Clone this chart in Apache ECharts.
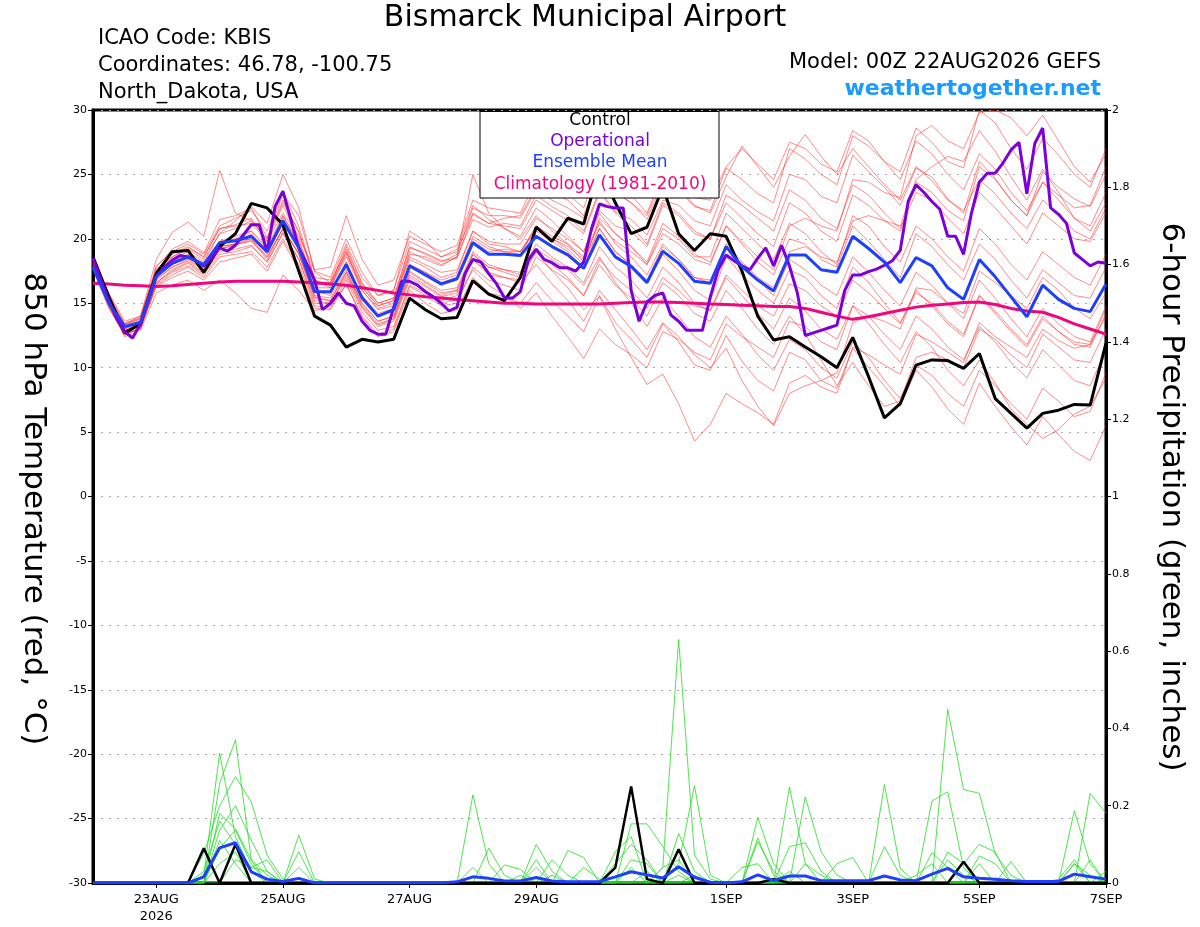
<!DOCTYPE html>
<html>
<head>
<meta charset="utf-8">
<script src="https://cdn.jsdelivr.net/npm/echarts@6/dist/echarts.min.js"></script>
<style>
  html, body { margin: 0; background: #fff; }
  #chart { width: 1200px; height: 927px; }
</style>
</head>
<body>
<div id="chart"></div>
<script>
// x axis: hours after 00Z 22AUG2026
const labelHours = [24, 72, 120, 168, 240, 288, 336, 384];
const xLabels = ['23AUG\n2026', '25AUG', '27AUG', '29AUG', '1SEP', '3SEP', '5SEP', '7SEP'];
const tempTicks = [-30, -25, -20, -15, -10, -5, 0, 5, 10, 15, 20, 25, 30];

// 850 hPa temperature, 6-hourly
const tempControl = [18.6,15.5,12.7,13.4,17.3,19.0,19.1,17.4,19.4,20.4,22.75,22.4,21.1,17.5,14.0,13.3,11.6,12.2,12.0,12.2,
  15.4,14.5,13.8,13.9,16.75,15.7,15.2,17.0,20.9,19.8,21.6,21.15,25.5,22.8,20.4,20.9,24.0,20.4,19.1,20.4,
  20.2,17.5,14.0,12.15,12.4,11.6,10.85,10.0,12.35,9.3,6.1,7.2,10.2,10.6,10.55,9.95,11.1,7.6,6.45,5.3,
  6.45,6.7,7.15,7.1,11.9];
const tempMean = [17.8,15.0,13.2,13.5,17.1,18.1,18.6,18.0,19.7,19.85,20.2,19.0,21.4,19.3,15.9,15.9,18.0,15.4,14.0,14.5,
  17.9,17.2,16.5,16.9,19.7,18.8,18.8,18.7,20.2,19.4,18.75,17.7,20.3,18.6,17.85,16.6,19.05,18.1,16.7,16.55,
  19.4,17.85,16.8,15.95,18.75,18.75,17.6,17.4,20.2,19.25,18.2,16.6,18.55,17.9,16.2,15.3,18.4,17.05,15.5,13.95,
  16.4,15.3,14.6,14.35,16.5];
const tempClimo = [16.55,16.5,16.4,16.35,16.3,16.35,16.45,16.55,16.65,16.7,16.7,16.7,16.7,16.65,16.6,16.5,16.4,16.2,16.0,15.8,
  15.65,15.5,15.4,15.3,15.2,15.1,15.0,15.0,14.95,14.95,14.95,14.95,14.95,15.0,15.05,15.1,15.1,15.05,15.0,14.95,
  14.9,14.85,14.8,14.75,14.75,14.6,14.3,14.0,13.75,13.95,14.2,14.45,14.7,14.85,14.95,15.05,15.1,14.9,14.6,14.4,
  14.3,13.9,13.4,13.0,12.6];
// operational run, 3-hourly
const tempOper = [18.5,16.8,15.2,13.8,12.8,12.3,13.4,15.25,17.1,17.8,
  18.35,18.7,18.6,18.3,17.9,18.5,19.3,19.05,19.5,20.3,
  21.1,21.1,19.0,22.5,23.7,21.5,19.3,18.1,16.8,14.5,
  15.0,15.8,15.0,14.8,13.6,12.9,12.6,12.6,14.7,16.7,
  16.7,16.4,15.9,15.5,15.0,14.4,14.7,17.3,18.4,18.2,
  17.3,16.5,15.4,15.4,15.9,18.35,19.2,18.4,18.15,17.75,
  17.75,17.5,18.2,20.8,22.7,22.5,22.4,22.4,16.0,13.6,
  15.1,15.6,15.8,14.1,13.6,12.9,12.9,12.9,15.5,17.6,
  18.75,18.3,17.9,17.6,18.5,19.3,17.9,19.5,17.9,15.8,
  12.5,12.7,12.9,13.1,13.3,16.0,17.2,17.2,17.45,17.65,
  17.95,18.3,19.1,22.9,24.2,23.6,22.9,22.3,20.2,20.2,
  18.8,22.0,24.4,25.1,25.1,25.9,26.9,27.5,23.5,27.4,
  28.6,22.4,21.9,21.2,18.9,18.4,17.9,18.2,18.1];

// ensemble members (red)
const tempMembers = [
  [18.2,15.3,13.4,13.8,17.8,19.2,19.8,18.9, 21.5,21.8,22.4,20.1,23.0,20.5,16.8,16.2, 19.0,16.3,14.8,15.2,19.0,18.4,17.9,18.6,
   21.5,20.9,21.2,21.0,23.4,22.5,21.8,20.6, 23.8,22.1,21.5,20.3,23.0,22.6,21.4,21.0, 24.2,23.0,22.1,21.4,25.0,24.6,23.3,22.8,
   26.5,25.2,24.0,22.6,25.5,24.8,23.1,22.0, 26.0,24.7,23.0,21.8,25.2,24.0,23.1,22.5, 25.0],
  [17.6,14.6,12.6,13.0,16.3,17.0,17.5,16.8, 18.2,18.5,18.8,17.5,19.8,17.6,14.6,14.5, 16.5,13.9,12.4,12.8,16.0,15.0,14.2,14.5,
   17.0,15.8,15.5,15.0,16.6,15.2,14.0,12.8, 15.6,13.5,12.2,10.8,13.4,12.0,10.2,9.8, 12.5,10.5,9.0,8.2,11.2,10.6,9.0,8.4,
   11.5,10.0,8.6,7.0,9.8,8.5,6.8,5.6, 8.8,7.0,5.4,4.0,6.2,4.8,3.5,2.8, 5.5],
  [18.0,15.1,12.9,13.2,16.8,17.8,18.3,17.6, 19.2,19.5,19.9,18.4,20.8,18.9,15.5,15.2, 17.4,15.0,13.6,14.0,17.5,16.7,16.0,16.2,
   19.0,18.0,17.6,17.2,19.0,17.5,16.2,14.5, 15.5,13.0,10.8,8.7,9.5,7.2,4.3,5.6, 8.0,7.2,6.5,5.6,8.8,9.4,8.5,8.0,
   11.6,11.0,10.2,9.5,12.6,12.0,11.2,10.4, 13.5,12.4,11.6,10.8,13.0,12.1,11.5,11.8, 14.0],
  [18.4,15.6,13.1,13.6,17.5,18.6,19.3,18.6, 20.8,21.1,21.6,19.8,22.6,20.0,16.4,16.6, 19.2,16.5,15.0,15.4,19.3,18.9,18.3,18.5,
   21.9,21.2,21.6,21.8,24.0,23.5,23.0,21.8, 25.0,23.6,22.8,21.5,24.4,23.8,22.5,22.2, 25.5,24.6,23.5,22.8,27.0,26.2,25.0,24.2,
   28.0,27.2,26.0,25.2,28.6,27.5,26.0,25.5, 30.0,29.0,27.0,25.4,27.8,26.5,25.0,24.0, 27.0],
  [17.8,14.9,12.8,13.3,16.6,17.5,18.1,17.3, 19.0,19.2,19.5,18.2,20.5,18.4,15.2,15.0, 17.2,14.7,13.3,13.8,17.0,16.3,15.5,15.8,
   18.4,17.2,17.0,16.6,18.0,16.5,15.2,13.6, 16.0,14.5,13.0,11.4,13.5,12.4,11.0,10.0, 11.5,9.0,7.0,5.5,8.0,8.6,9.0,9.6,
   13.5,14.0,13.6,13.0,16.2,16.0,15.0,14.2, 17.5,16.6,15.6,14.6,17.0,16.0,14.6,13.8, 15.8],
  [18.5,15.8,13.6,14.0,18.4,20.5,21.3,20.2, 25.3,22.0,21.4,20.0,23.5,21.8,17.5,17.0, 20.0,17.4,15.6,16.0,20.6,19.8,18.6,19.2,
   22.6,21.5,20.8,20.0,21.8,20.6,19.6,18.2, 20.8,19.0,18.0,16.6,18.8,17.5,16.0,15.2, 18.6,17.2,16.0,15.0,17.6,17.0,15.6,14.6,
   17.8,16.6,15.0,13.5,16.0,14.8,13.4,12.4, 15.6,14.2,12.8,11.6,13.8,12.8,11.8,11.6, 14.2],
  [18.1,15.2,13.0,13.5,17.2,18.4,19.0,18.2, 20.4,21.4,22.5,21.2,25.0,22.4,17.4,16.6, 19.0,16.0,14.5,14.8,18.4,17.8,17.0,17.4,
   20.6,19.6,19.4,19.0,21.0,20.0,19.2,18.0, 21.6,20.4,19.4,18.0,20.8,20.0,18.6,18.6, 22.0,20.8,19.6,18.4,21.2,20.4,19.0,18.0,
   21.8,21.0,19.4,18.2,21.0,20.0,18.6,17.5, 20.8,19.6,18.0,16.8,19.0,18.0,17.0,16.4, 18.8],
  [17.9,14.8,12.4,12.9,15.8,16.4,16.8,16.0, 16.8,15.8,14.6,14.3,17.2,16.0,14.4,14.8, 16.4,14.0,12.6,13.0,16.3,15.6,14.8,15.0,
   17.8,16.8,16.4,16.0,18.6,17.6,16.8,15.6, 18.4,17.0,16.0,14.6,17.0,16.0,14.8,14.5, 17.2,16.0,14.8,14.0,16.5,16.0,14.8,14.0,
   16.8,15.8,14.6,13.4,15.8,15.0,13.6,12.6, 15.6,14.4,13.0,11.8,14.0,12.8,12.0,11.8, 14.6],
  [18.3,15.5,13.2,13.7,17.6,18.8,19.4,18.6, 20.8,21.0,21.2,19.8,22.0,20.2,17.6,17.8, 21.8,18.4,16.4,16.8,20.2,19.6,19.0,19.5,
   23.0,22.4,22.2,22.0,24.6,24.2,23.5,22.4, 25.8,24.6,23.4,22.0,25.2,24.0,22.6,22.0, 24.8,27.2,25.6,24.0,26.4,28.1,26.4,25.0,
   27.0,25.6,24.2,23.0,25.6,24.5,23.0,22.2, 24.6,23.5,22.0,20.8,23.0,22.0,20.6,20.0, 22.4],
  [17.7,14.7,12.5,13.1,16.4,17.2,17.8,17.0, 18.6,18.8,19.0,17.8,20.0,18.0,14.8,14.6, 16.8,14.3,12.9,13.2,16.4,15.8,15.0,15.3,
   17.6,16.4,15.6,14.6,15.8,14.0,12.4,10.7, 13.0,11.8,11.0,10.0,12.8,12.2,11.2,10.6, 13.4,12.4,11.6,10.8,13.6,13.2,12.0,11.4,
   14.8,14.0,12.6,11.4,14.0,13.0,11.6,10.6, 13.2,12.0,10.4,9.2,11.4,10.2,9.0,8.6, 11.4],
  [18.2,15.4,13.3,13.8,17.4,18.2,18.8,18.0, 19.8,20.2,20.6,19.2,21.6,19.6,16.2,16.2, 18.6,16.0,14.6,15.0,18.8,18.6,18.0,18.6,
   25.0,22.0,20.8,20.2,22.4,21.4,20.2,19.0, 22.2,21.0,20.6,19.4,22.6,21.8,20.4,20.0, 23.4,22.6,21.6,20.6,23.8,23.0,21.6,20.8,
   24.2,23.4,22.0,20.8,23.6,23.0,21.6,20.4, 23.6,22.4,21.0,19.6,22.0,21.0,20.0,19.8, 22.0],
  [18.0,15.0,13.0,13.6,17.0,18.0,18.6,17.8, 19.6,19.8,20.0,18.8,21.2,19.2,16.0,15.8, 18.0,15.6,14.0,14.6,18.0,17.4,16.6,17.0,
   19.8,19.0,19.2,19.0,20.8,20.0,19.4,18.4, 21.2,19.8,19.0,18.0,20.4,19.6,18.4,18.0, 21.0,19.8,18.6,17.6,21.0,21.6,21.0,20.6,
   24.6,24.4,23.6,23.2,28.0,28.8,27.6,27.0, 29.8,30.0,29.4,28.0,29.6,27.6,25.6,24.4, 26.6],
  [17.9,15.0,12.8,13.4,16.9,17.8,18.4,17.7, 19.4,19.6,19.8,18.6,20.8,18.8,15.6,15.4, 17.6,15.0,13.6,14.0,17.4,16.6,15.8,16.0,
   18.8,17.8,17.4,17.0,19.2,18.4,17.6,16.4, 18.6,16.6,15.0,13.2,15.4,14.0,12.4,11.6, 14.0,12.6,11.0,9.8,12.2,11.4,10.0,9.2,
   12.0,10.8,9.0,7.6,10.2,9.4,8.0,7.0, 9.8,8.6,7.2,6.0,8.4,7.4,6.2,6.6, 9.6],
  [18.1,15.1,12.7,13.0,16.6,17.6,18.2,17.4, 19.2,19.6,20.4,19.0,21.8,19.6,16.0,15.6, 18.2,15.4,14.0,14.4,18.0,17.2,16.4,16.8,
   20.2,19.4,19.0,18.8,21.0,20.2,19.6,18.6, 21.4,19.6,18.6,17.2,19.6,18.4,17.0,16.6, 19.4,18.0,16.8,15.6,18.4,17.6,16.4,15.6,
   18.6,17.4,16.0,14.8,17.4,16.4,15.0,13.8, 16.8,15.4,13.8,12.4,14.6,13.4,12.4,12.0, 14.8],
  [18.4,15.7,13.4,13.9,17.9,19.0,19.6,18.8, 21.0,21.6,22.2,20.6,23.6,21.0,16.8,16.4, 19.4,16.6,15.0,15.4,19.4,18.8,18.2,18.8,
   22.4,21.8,21.8,21.6,23.8,23.0,22.4,21.6, 24.6,23.6,22.8,21.8,24.8,24.4,23.2,23.0, 25.6,27.0,25.8,24.6,27.5,27.0,25.8,25.2,
   28.4,27.6,26.0,24.6,27.6,26.6,25.0,23.8, 26.6,25.4,23.6,22.2,24.4,23.0,21.6,21.0, 23.6],
  [17.8,14.8,12.6,13.1,16.5,17.4,17.9,17.2, 18.8,19.0,19.4,18.2,20.4,18.4,15.0,15.0, 17.0,14.6,13.2,13.6,16.8,16.0,15.2,15.6,
   18.4,17.4,17.0,16.8,19.0,18.0,17.0,15.6, 18.0,16.4,15.4,14.0,16.6,15.6,14.2,13.6, 16.0,14.6,13.0,11.8,14.0,12.6,10.6,8.6,
   10.4,8.6,7.0,7.4,10.8,11.2,10.6,10.0, 13.0,12.2,11.0,10.0,12.6,11.6,10.6,10.4, 13.0],
  [18.6,15.6,13.2,13.6,17.0,18.0,18.5,17.8, 19.6,20.0,20.6,19.4,21.8,19.8,16.6,16.4, 18.8,16.2,14.8,15.2,18.6,18.0,17.4,17.6,
   20.6,19.8,19.6,19.6,21.6,20.8,20.0,19.0, 22.0,20.4,19.4,18.2,21.2,20.2,18.8,18.2, 21.0,19.6,18.2,17.2,20.0,19.6,18.4,17.8,
   21.0,19.8,18.4,17.0,20.4,19.4,18.0,16.8, 19.6,18.4,16.8,15.4,17.6,16.6,15.6,15.4, 17.8],
  [17.7,14.9,12.9,13.4,17.0,18.0,18.6,17.8, 19.4,19.6,20.0,18.6,20.8,18.8,15.4,15.2, 17.4,14.8,13.4,13.8,17.2,16.4,15.6,16.0,
   18.8,17.8,17.6,17.4,19.6,18.6,17.8,16.6, 19.4,17.8,16.8,15.4,17.8,16.6,15.0,14.4, 17.0,15.6,14.2,13.0,15.4,14.4,13.0,12.2,
   14.8,13.4,11.8,10.4,12.8,11.6,9.8,8.6, 10.6,8.8,6.8,5.6,4.5,5.2,6.4,7.0, 9.2],
  [18.2,15.4,13.4,14.0,17.6,18.6,19.2,18.4, 20.4,20.8,21.4,20.0,22.8,20.6,17.0,16.8, 19.6,17.0,15.6,16.0,19.8,19.2,18.6,19.0,
   22.0,21.2,21.0,20.8,23.0,22.2,21.4,20.4, 23.6,22.0,21.0,19.6,22.8,22.0,20.6,20.0, 22.8,21.6,20.4,19.4,22.8,22.0,20.6,19.8,
   23.4,22.6,21.4,20.6,24.4,23.6,22.2,21.4, 25.6,24.6,23.0,21.8,24.4,23.4,22.4,22.6, 25.6],
  [18.0,15.0,13.1,13.5,17.1,18.2,18.7,18.1, 19.8,20.0,20.2,19.2,21.4,19.4,16.0,15.8, 18.2,15.6,14.2,14.6,18.0,17.4,16.8,17.2,
   20.0,19.2,19.0,19.0,20.6,19.8,19.0,17.8, 20.8,19.0,18.0,16.8,19.4,18.4,17.0,16.8, 19.6,18.2,17.0,16.2,19.0,19.4,18.6,18.2,
   21.4,21.8,21.4,21.0,24.6,25.6,26.4,26.0, 28.4,26.8,24.8,23.0,25.4,23.6,21.6,20.6, 22.8]
];

// 6-hour precipitation (inches), 6-hourly
const precipControl = [0,0,0,0,0,0,0,0.09,0,0.10, 0,0,0,0,0,0,0,0,0,0, 0,0,0,0,0,0,0,0,0,0,
  0,0,0,0.04,0.25,0.01,0,0.087,0,0, 0,0,0,0.01,0,0,0,0,0,0, 0,0,0,0,0,0.055,0,0,0,0, 0,0,0,0,0];
const precipMean = [0,0,0,0,0,0,0,0.016,0.091,0.104, 0.029,0.01,0.004,0.012,0,0,0,0,0,0,
  0,0,0,0.003,0.016,0.012,0.005,0.005,0.014,0.005, 0.003,0.003,0.004,0.016,0.029,0.021,0.013,0.042,0.015,0.002,
  0,0.003,0.021,0.006,0.018,0.018,0.006,0.006,0.006,0.006, 0.018,0.008,0.006,0.023,0.038,0.016,0.012,0.01,0.006,0.004,
  0.004,0.004,0.023,0.016,0.01];
const precipMembers = [
  [0,0,0,0,0,0,0,0.02,0.336,0.12, 0.03,0,0,0,0,0,0,0,0,0, 0,0,0,0,0.228,0.05,0,0,0,0,
   0,0,0,0,0,0,0.04,0.63,0.072,0.01, 0,0,0,0,0,0,0,0,0,0, 0,0,0,0,0.449,0.242,0.232,0.075,0.02,0, 0,0,0,0,0],
  [0,0,0,0,0,0,0,0,0.258,0.37, 0.06,0.02,0,0,0,0,0,0,0,0, 0,0,0,0,0,0,0,0,0.1,0.03,
   0,0,0,0,0.153,0.153,0.094,0.03,0,0, 0,0,0,0,0.248,0.05,0,0,0,0, 0,0,0,0,0,0,0,0,0,0, 0,0,0.187,0.05,0],
  [0,0,0,0,0,0,0,0.077,0.2,0.275, 0.21,0.072,0.01,0,0,0,0,0,0,0, 0,0,0,0,0,0,0,0,0,0,
   0.084,0.066,0,0,0,0,0,0.05,0.252,0.02, 0,0,0,0,0,0.223,0.081,0.02,0,0, 0,0,0,0,0,0,0,0,0,0, 0,0,0,0.232,0.18],
  [0,0,0,0,0,0,0,0,0.137,0.2, 0.111,0.03,0,0.124,0.01,0,0,0,0,0, 0,0,0,0,0,0,0.047,0.035,0,0,
   0,0,0,0.081,0.12,0,0,0,0,0, 0,0,0.17,0.05,0,0,0,0,0,0, 0.255,0.038,0,0,0,0,0,0,0,0, 0,0,0.05,0.02,0],
  [0,0,0,0,0,0,0,0,0.09,0.137, 0.05,0,0,0.081,0,0,0,0,0,0, 0,0,0,0,0,0.09,0.02,0,0,0.06,
   0.02,0,0,0,0,0,0,0.128,0.03,0, 0,0,0.116,0.02,0,0,0,0,0,0, 0,0,0,0.212,0.236,0.04,0,0,0,0, 0,0,0,0,0.03],
  [0,0,0,0,0,0,0,0.03,0.16,0.1, 0.04,0.03,0,0,0,0,0,0,0,0, 0,0,0,0,0,0,0,0,0.06,0,
   0,0,0,0,0.06,0.05,0,0,0,0, 0,0,0,0,0.094,0.104,0.03,0,0,0, 0,0,0,0,0.08,0.05,0.1,0.08,0,0, 0,0,0.05,0,0],
  [0,0,0,0,0,0,0,0,0.18,0.14, 0.06,0,0,0,0,0,0,0,0,0, 0,0,0,0,0.04,0,0,0,0,0,
   0,0.04,0.01,0,0,0,0.04,0.06,0,0, 0,0,0.107,0.03,0,0,0,0,0,0, 0.094,0.02,0,0.078,0.04,0,0,0,0.055,0, 0,0,0,0,0],
  [0,0,0,0,0,0,0,0,0.11,0.05, 0,0,0,0,0,0,0,0,0,0, 0,0,0,0,0,0,0,0.02,0,0,
   0,0,0,0.05,0.1,0.06,0,0,0,0, 0,0.04,0.05,0,0,0.05,0.02,0,0,0, 0,0,0,0,0,0,0.07,0.05,0,0, 0,0,0,0.06,0],
  [0,0,0,0,0,0,0,0,0,0.06, 0.04,0.06,0,0,0,0,0,0,0,0, 0,0,0,0,0,0,0,0,0.04,0,
   0,0,0,0,0,0.03,0,0,0.02,0, 0,0,0,0,0,0,0,0.05,0.066,0, 0,0,0,0,0.06,0.02,0,0,0,0, 0,0.01,0.06,0,0],
  [0,0,0,0,0,0,0,0,0.05,0.08, 0,0,0,0.04,0,0,0,0,0,0, 0,0,0,0,0,0,0,0,0,0.02,
   0,0,0,0,0.04,0,0,0.02,0,0, 0,0,0,0,0.03,0,0,0,0,0, 0,0,0.02,0.05,0,0,0.05,0,0,0, 0,0,0,0,0.01]
];

const FONT = '"DejaVu Sans", Verdana, sans-serif';
const toPairs = (arr, step) => arr.map((v, i) => [i * step, v]);

function thinLine(name, data, color, yAxisIndex, z) {
  return {
    name: name, type: 'line', data: data, yAxisIndex: yAxisIndex,
    showSymbol: false, symbol: 'none', silent: true, z: z,
    lineStyle: { color: color, width: 0.8 }
  };
}
function thickLine(name, data, color, yAxisIndex, z, width) {
  return {
    name: name, type: 'line', data: data, yAxisIndex: yAxisIndex,
    showSymbol: false, symbol: 'none', silent: true, z: z,
    lineStyle: { color: color, width: width || 3 }
  };
}

const series = [];
tempMembers.forEach((m, k) => series.push(thinLine('member' + k, toPairs(m, 6), 'rgba(255,30,30,0.65)', 0, 2)));
precipMembers.forEach((m, k) => series.push(thinLine('precip' + k, toPairs(m, 6), '#22dd22', 1, 2)));
series.push(thickLine('Climatology', toPairs(tempClimo, 6), '#F0077E', 0, 3));
series.push(thickLine('Control', toPairs(tempControl, 6), '#000000', 0, 4));
series.push(thickLine('Operational', toPairs(tempOper, 3), '#7B00DC', 0, 5));
series.push(thickLine('Ensemble Mean', toPairs(tempMean, 6), '#1F3FFF', 0, 6));
series.push(thickLine('Control precip', toPairs(precipControl, 6), '#000000', 1, 4, 2.5));
series.push(thickLine('Mean precip', toPairs(precipMean, 6), '#1F3FFF', 1, 6));

const chart = echarts.init(document.getElementById('chart'));

const option = {
  animation: false,
  backgroundColor: '#ffffff',
  grid: { left: 93, right: 94, top: 110, bottom: 44, show: true, borderColor: '#000', borderWidth: 3 },
  xAxis: {
    type: 'value', min: 0, max: 384,
    axisLine: { show: true, onZero: false, lineStyle: { color: '#000', width: 3 } },
    axisTick: { show: true, customValues: labelHours, length: 5, lineStyle: { color: '#000', width: 1 } },
    axisLabel: {
      customValues: labelHours, color: '#000', fontSize: 13, fontFamily: FONT, margin: 8, lineHeight: 17,
      formatter: v => xLabels[labelHours.indexOf(v)] || ''
    },
    splitLine: { show: false }
  },
  yAxis: [
    {
      type: 'value', min: tempTicks[0], max: tempTicks[tempTicks.length - 1], interval: 5, position: 'left',
      axisLine: { show: true, lineStyle: { color: '#000', width: 3 } },
      axisTick: { show: true, length: 5, lineStyle: { color: '#000', width: 1 } },
      axisLabel: { color: '#000', fontSize: 11, fontFamily: FONT, margin: 6 },
      splitLine: { show: true, lineStyle: { color: '#aaaaaa', width: 1, type: [2, 6] } }
    },
    {
      type: 'value', min: 0, max: 2, interval: 0.2, position: 'right',
      axisLine: { show: true, lineStyle: { color: '#000', width: 3 } },
      axisTick: { show: true, length: 5, lineStyle: { color: '#000', width: 1 } },
      axisLabel: { color: '#000', fontSize: 11, fontFamily: FONT, margin: 6 },
      splitLine: { show: false }
    }
  ],
  graphic: [
    { type: 'text', x: 585, y: 18, z: 100,
      style: { text: 'Bismarck Municipal Airport', fill: '#000', font: '30px ' + FONT, align: 'center', verticalAlign: 'middle' } },
    { type: 'text', x: 98, y: 39, z: 100,
      style: { text: 'ICAO Code: KBIS', fill: '#000', font: '21px ' + FONT, align: 'left', verticalAlign: 'middle' } },
    { type: 'text', x: 98, y: 66, z: 100,
      style: { text: 'Coordinates: 46.78, -100.75', fill: '#000', font: '21px ' + FONT, align: 'left', verticalAlign: 'middle' } },
    { type: 'text', x: 98, y: 93, z: 100,
      style: { text: 'North_Dakota, USA', fill: '#000', font: '21px ' + FONT, align: 'left', verticalAlign: 'middle' } },
    { type: 'text', x: 1101, y: 63, z: 100,
      style: { text: 'Model: 00Z 22AUG2026 GEFS', fill: '#000', font: '21px ' + FONT, align: 'right', verticalAlign: 'middle' } },
    { type: 'text', x: 1101, y: 89, z: 100,
      style: { text: 'weathertogether.net', fill: '#1a9cff', font: 'bold 22px ' + FONT, align: 'right', verticalAlign: 'middle' } },
    // legend box
    { type: 'rect', z: 100, shape: { x: 480, y: 111.5, width: 239, height: 86.5 },
      style: { fill: '#fff', stroke: '#000', lineWidth: 1 } },
    { type: 'text', x: 600, y: 121, z: 101,
      style: { text: 'Control', fill: '#000', font: '17px ' + FONT, align: 'center', verticalAlign: 'middle' } },
    { type: 'text', x: 600, y: 142, z: 101,
      style: { text: 'Operational', fill: '#7B00DC', font: '17px ' + FONT, align: 'center', verticalAlign: 'middle' } },
    { type: 'text', x: 600, y: 163, z: 101,
      style: { text: 'Ensemble Mean', fill: '#1F3FFF', font: '17px ' + FONT, align: 'center', verticalAlign: 'middle' } },
    { type: 'text', x: 600, y: 185, z: 101,
      style: { text: 'Climatology (1981-2010)', fill: '#F0077E', font: '17px ' + FONT, align: 'center', verticalAlign: 'middle' } },
    // axis names
    { type: 'text', x: 33, y: 509, rotation: -Math.PI / 2, z: 100,
      style: { text: '850 hPa Temperature (red, °C)', fill: '#000', font: '31px ' + FONT, align: 'center', verticalAlign: 'middle' } },
    { type: 'text', x: 1171, y: 497, rotation: -Math.PI / 2, z: 100,
      style: { text: '6-hour Precipitation (green, inches)', fill: '#000', font: '31px ' + FONT, align: 'center', verticalAlign: 'middle' } }
  ],
  series: series
};

chart.setOption(option);
</script>
</body>
</html>
